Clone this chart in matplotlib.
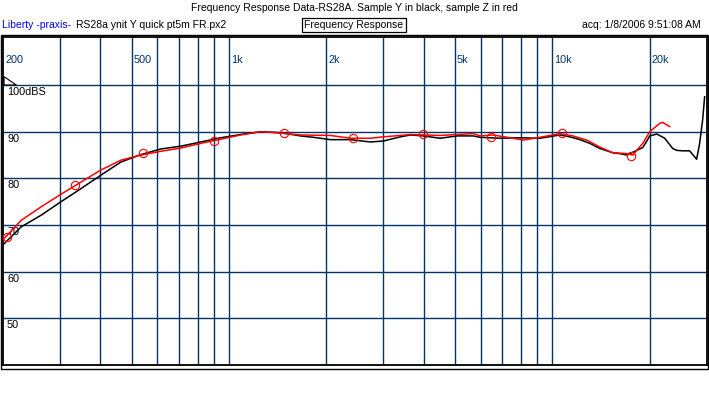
import matplotlib
matplotlib.use("Agg")
import matplotlib.pyplot as plt
from matplotlib.patches import Rectangle, Polygon

plt.rcParams['font.family'] = ['Liberation Sans', 'DejaVu Sans']

# sample Y (black) - frequency in Hz, level in dB
black_freq = [201.6, 227.6, 262.3, 302.3, 348.5, 401.8, 463.2, 534.0, 615.5, 709.6,
              818, 942.7, 1087, 1253, 1444, 1664, 1826, 2060, 2375, 2737,
              3002, 3388, 3638, 3990, 4501, 5080, 5692, 5981, 6897, 7950,
              9163, 10562, 11339, 12176, 13073, 14036, 15393, 16181, 17009, 17750,
              18261, 19056, 19607, 20029, 21050, 22283, 23586, 24266, 25324, 26607,
              27964, 28568, 29182, 29602]
black_db = [66.0, 69.6, 72.1, 75.0, 77.8, 80.7, 83.5, 85.1, 86.3, 86.9,
            87.8, 88.7, 89.4, 90.0, 89.8, 89.1, 88.8, 88.3, 88.3, 87.8,
            88.0, 88.9, 89.3, 89.1, 88.6, 89.1, 89.1, 88.8, 88.6, 88.7,
            88.6, 89.3, 88.9, 88.3, 87.5, 86.4, 85.5, 85.3, 85.0, 85.6,
            86.0, 86.6, 88.0, 89.1, 89.5, 88.6, 86.4, 86.0, 85.9, 85.9,
            84.1, 87.5, 92.5, 97.5]

# sample Z (red)
red_freq = [201.6, 227.6, 262.3, 302.3, 348.5, 401.8, 463.2, 534.0, 615.5, 709.6,
            818, 942.7, 1087, 1253, 1444, 1664, 2060, 2375, 2737, 3002,
            3388, 3638, 4501, 5080, 5692, 5981, 6561, 7563, 8122, 9163,
            10562, 11584, 12797, 14036, 15393, 17009, 17750, 19056, 20029, 21505,
            21967, 23090]
red_db = [67.1, 71.0, 73.9, 76.6, 79.2, 81.8, 83.9, 85.0, 85.8, 86.5,
          87.5, 88.4, 89.3, 90.0, 89.7, 89.3, 89.2, 88.6, 88.6, 88.9,
          89.2, 89.4, 89.2, 89.4, 89.6, 89.1, 89.3, 88.6, 88.2, 88.8,
          89.6, 89.1, 88.2, 86.7, 85.5, 85.3, 85.0, 87.5, 90.0, 91.8,
          92.0, 91.1]

# circle markers on sample Z
mark_freq = [206, 333, 544, 899, 1476, 2423, 3974, 6486, 10730, 17540]
mark_db = [67.5, 78.5, 85.4, 88.0, 89.7, 88.6, 89.5, 88.8, 89.7, 84.9]

grid_freq = [300, 400, 500, 600, 700, 800, 900, 1000,
             2000, 3000, 4000, 5000, 6000, 7000, 8000, 9000, 10000, 20000]
grid_db = [50, 60, 70, 80, 90, 100]
freq_labels = [(200, '200'), (500, '500'), (1000, '1k'), (2000, '2k'),
               (5000, '5k'), (10000, '10k'), (20000, '20k')]
db_labels = [(100, '100dBS'), (90, '90'), (80, '80'), (70, '70'), (60, '60'), (50, '50')]

W, H = 709, 395
navy = '#003366'
fs = 7.5

fig = plt.figure(figsize=(W / 100, H / 100), dpi=100)
fig.patch.set_facecolor('white')
# axes box in pixels: x 3..706.5, y 37..365 (from top)
ax = fig.add_axes([3 / W, (H - 365) / H, 703.5 / W, 328 / H])
ax.set_xscale('log')
ax.set_xlim(200, 30000)
ax.set_ylim(40, 110.3)
ax.set_xticks([])
ax.set_yticks([])
ax.minorticks_off()
for s in ax.spines.values():
    s.set_linewidth(1.3)
    s.set_color('black')

for f in grid_freq:
    ax.axvline(f, color=navy, lw=1.0, zorder=1)
for d in grid_db:
    ax.axhline(d, color=navy, lw=1.0, zorder=1)

for f, t in freq_labels:
    ax.annotate(t, xy=(f, 1), xycoords=('data', 'axes fraction'), xytext=(2, -23),
                textcoords='offset pixels', ha='left', va='center', fontsize=fs + 0.3, color=navy)
for d, t in db_labels:
    ax.annotate(t, xy=(0, d), xycoords=('axes fraction', 'data'), xytext=(4, -2),
                textcoords='offset pixels', ha='left', va='top', fontsize=fs + 0.3, color='black')

# small reference triangle at top left
tri = Polygon([(0.0015, 101.8), (0.0015, 100), (0.019, 100)], closed=True, fill=False,
              edgecolor='black', lw=0.8, transform=ax.get_yaxis_transform(), clip_on=False)
ax.add_patch(tri)

ax.plot(black_freq, black_db, color='black', lw=1.1, zorder=3)
ax.plot(red_freq, red_db, color='#ff0000', lw=1.1, zorder=4)
ax.plot(mark_freq, mark_db, 'o', ms=6, mfc='none', mec='#ff0000', mew=0.8, zorder=5)

# outer frame
fig.add_artist(Rectangle((0.8 / W, (H - 368.5) / H), 707.5 / W, 333.5 / H, fill=False,
                         edgecolor='black', lw=1.0, transform=fig.transFigure))

fig.text(354.5 / W, 1 - 8 / H, 'Frequency Response Data-RS28A. Sample Y in black, sample Z in red',
         ha='center', va='center', fontsize=fs)
fig.text(2 / W, 1 - 25 / H, 'Liberty -praxis-', ha='left', va='center', fontsize=fs, color='#0000ff')
fig.text(76 / W, 1 - 25 / H, 'RS28a ynit Y quick pt5m FR.px2', ha='left', va='center', fontsize=fs)
fig.text(354 / W, 1 - 25 / H, 'Frequency Response', ha='center', va='center', fontsize=fs,
         bbox=dict(boxstyle='square,pad=0.2', fc='white', ec='black', lw=0.9))
fig.text(701 / W, 1 - 25 / H, 'acq: 1/8/2006 9:51:08 AM', ha='right', va='center', fontsize=fs)

fig.savefig('out.png', dpi=100)
